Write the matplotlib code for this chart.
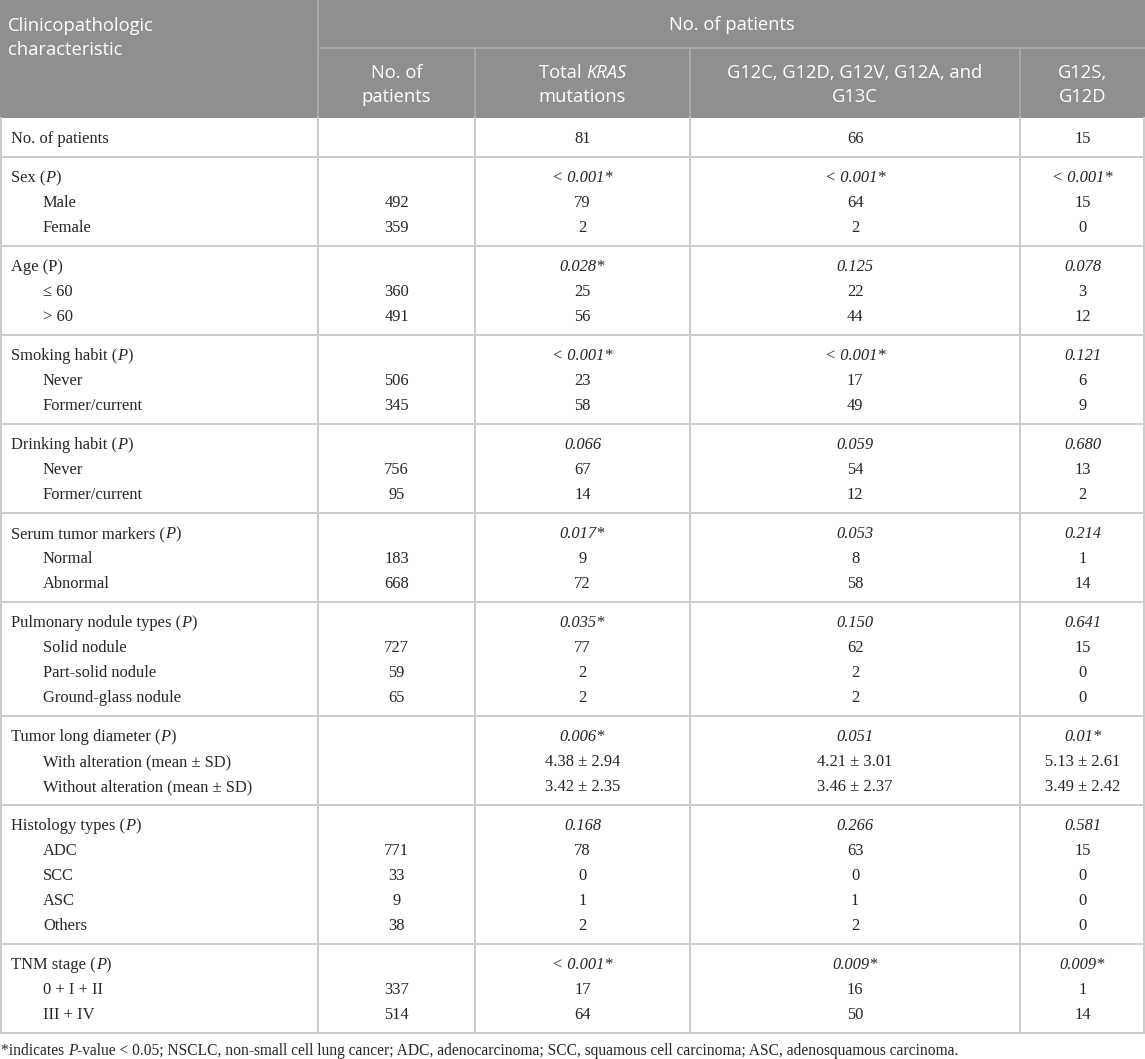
import matplotlib
matplotlib.use("Agg")
import matplotlib.pyplot as plt
from matplotlib.patches import Rectangle

# ---------------- data ----------------
header_left = ["Clinicopathologic", "characteristic"]
header_top = "No. of patients"
sub_headers = [
    [[("No. of", False)], [("patients", False)]],
    [[("Total ", False), ("KRAS", True)], [("mutations", False)]],
    [[("G12C, G12D, G12V, G12A, and", False)], [("G13C", False)]],
    [[("G12S,", False)], [("G12D", False)]],
]

row_labels = [
    "No. of patients",
    "Sex (_P_)", "Male", "Female",
    "Age (P)", "\u2264 60", "> 60",
    "Smoking habit (_P_)", "Never", "Former/current",
    "Drinking habit (_P_)", "Never", "Former/current",
    "Serum tumor markers (_P_)", "Normal", "Abnormal",
    "Pulmonary nodule types (_P_)", "Solid nodule", "Part-solid nodule", "Ground-glass nodule",
    "Tumor long diameter (_P_)", "With alteration (mean \u00b1 SD)", "Without alteration (mean \u00b1 SD)",
    "Histology types (_P_)", "ADC", "SCC", "ASC", "Others",
    "TNM stage (_P_)", "0 + I + II", "III + IV",
]
row_level = [0,
             0, 1, 1,
             0, 1, 1,
             0, 1, 1,
             0, 1, 1,
             0, 1, 1,
             0, 1, 1, 1,
             0, 1, 1,
             0, 1, 1, 1, 1,
             0, 1, 1]
col_patients = ["",
                "", "492", "359",
                "", "360", "491",
                "", "506", "345",
                "", "756", "95",
                "", "183", "668",
                "", "727", "59", "65",
                "", "", "",
                "", "771", "33", "9", "38",
                "", "337", "514"]
col_total = ["81",
             "< 0.001*", "79", "2",
             "0.028*", "25", "56",
             "< 0.001*", "23", "58",
             "0.066", "67", "14",
             "0.017*", "9", "72",
             "0.035*", "77", "2", "2",
             "0.006*", "4.38 \u00b1 2.94", "3.42 \u00b1 2.35",
             "0.168", "78", "0", "1", "2",
             "< 0.001*", "17", "64"]
col_main = ["66",
            "< 0.001*", "64", "2",
            "0.125", "22", "44",
            "< 0.001*", "17", "49",
            "0.059", "54", "12",
            "0.053", "8", "58",
            "0.150", "62", "2", "2",
            "0.051", "4.21 \u00b1 3.01", "3.46 \u00b1 2.37",
            "0.266", "63", "0", "1", "2",
            "0.009*", "16", "50"]
col_other = ["15",
             "< 0.001*", "15", "0",
             "0.078", "3", "12",
             "0.121", "6", "9",
             "0.680", "13", "2",
             "0.214", "1", "14",
             "0.641", "15", "0", "0",
             "0.01*", "5.13 \u00b1 2.61", "3.49 \u00b1 2.42",
             "0.581", "15", "0", "0", "0",
             "0.009*", "1", "14"]
footnote_runs = [("*indicates ", False), ("P", True),
                 ("-value < 0.05; NSCLC, non-small cell lung cancer; ADC, adenocarcinoma; "
                  "SCC, squamous cell carcinoma; ASC, adenosquamous carcinoma.", False)]

# ---------------- layout ----------------
W, H = 1145, 1059
col_edges = [0, 318, 475, 690, 1020, 1145]
header_h = 118
header_split = 48
line_pitch = 25
group_pad = 14

HEAD_BG = "#8f8f8f"
HEAD_LINE = "#a8a8a8"
BODY_LINE = "#cbcbcb"
TXT = "#262626"
HEAD_FONT = "Open Sans"
BODY_FONT = "Liberation Serif"
HEAD_SIZE = 13.2
BODY_SIZE = 11.9
FOOT_SIZE = 11.2

fig = plt.figure(figsize=(W / 100, H / 100), dpi=100)
ax = fig.add_axes([0, 0, 1, 1])
ax.set_xlim(0, W)
ax.set_ylim(H, 0)
ax.axis("off")
fig.canvas.draw()
renderer = fig.canvas.get_renderer()


def draw_runs(x, y, runs, ha, family, size, color):
    texts = []
    widths = []
    for s, it in runs:
        t = ax.text(0, y, s, family=family, size=size, color=color,
                    style="italic" if it else "normal", va="center_baseline", ha="left")
        texts.append(t)
        widths.append(t.get_window_extent(renderer).width)
    total = sum(widths)
    if ha == "center":
        x0 = x - total / 2
    elif ha == "right":
        x0 = x - total
    else:
        x0 = x
    for t, w in zip(texts, widths):
        t.set_x(x0)
        x0 += w


def parse_label(s):
    parts = s.split("_")
    return [(p, i % 2 == 1) for i, p in enumerate(parts) if p]


# header background
ax.add_patch(Rectangle((0, 0), W, header_h, facecolor=HEAD_BG, edgecolor="none", zorder=0))
ax.plot([col_edges[1], W], [header_split, header_split], color=HEAD_LINE, lw=1.4)
ax.plot([col_edges[1], col_edges[1]], [0, header_h], color=HEAD_LINE, lw=1.4)
for xe in col_edges[2:-1]:
    ax.plot([xe, xe], [header_split, header_h], color=HEAD_LINE, lw=1.4)

for i, s in enumerate(header_left):
    ax.text(8, 24 + i * 24, s, family=HEAD_FONT, size=HEAD_SIZE, color="white",
            va="center_baseline", ha="left")
ax.text((col_edges[1] + W) / 2, 23, header_top, family=HEAD_FONT, size=HEAD_SIZE,
        color="white", va="center_baseline", ha="center")
for c, lines in enumerate(sub_headers):
    xc = (col_edges[c + 1] + col_edges[c + 2]) / 2
    for i, runs in enumerate(lines):
        draw_runs(xc, 71 + i * 24, runs, "center", HEAD_FONT, HEAD_SIZE, "white")

# body
groups = []
for i, lvl in enumerate(row_level):
    if lvl == 0:
        groups.append([i])
    else:
        groups[-1].append(i)

y = header_h
for g in groups:
    gh = len(g) * line_pitch + group_pad
    for k, r in enumerate(g):
        yc = y + 19 + line_pitch * k
        xl = 11 if row_level[r] == 0 else 43
        draw_runs(xl, yc, parse_label(row_labels[r]), "left", BODY_FONT, BODY_SIZE, TXT)
        is_p = row_level[r] == 0 and r != 0
        cols = [col_patients[r], col_total[r], col_main[r], col_other[r]]
        for c, val in enumerate(cols):
            if not val:
                continue
            xc = (col_edges[c + 1] + col_edges[c + 2]) / 2
            ax.text(xc, yc, val, family=BODY_FONT, size=BODY_SIZE, color=TXT,
                    style="italic" if (is_p and c > 0) else "normal",
                    va="center_baseline", ha="center")
    y += gh
    ax.plot([0, W], [y, y], color=BODY_LINE, lw=1.4)

for xe in col_edges[1:-1]:
    ax.plot([xe, xe], [header_h, y], color=BODY_LINE, lw=1.4)
ax.plot([0.7, 0.7], [header_h, y], color=BODY_LINE, lw=1.4)
ax.plot([W - 0.7, W - 0.7], [header_h, y], color=BODY_LINE, lw=1.4)

draw_runs(1, 1049, footnote_runs, "left", BODY_FONT, FOOT_SIZE, TXT)

fig.savefig("out.png", dpi=100, facecolor="white")
